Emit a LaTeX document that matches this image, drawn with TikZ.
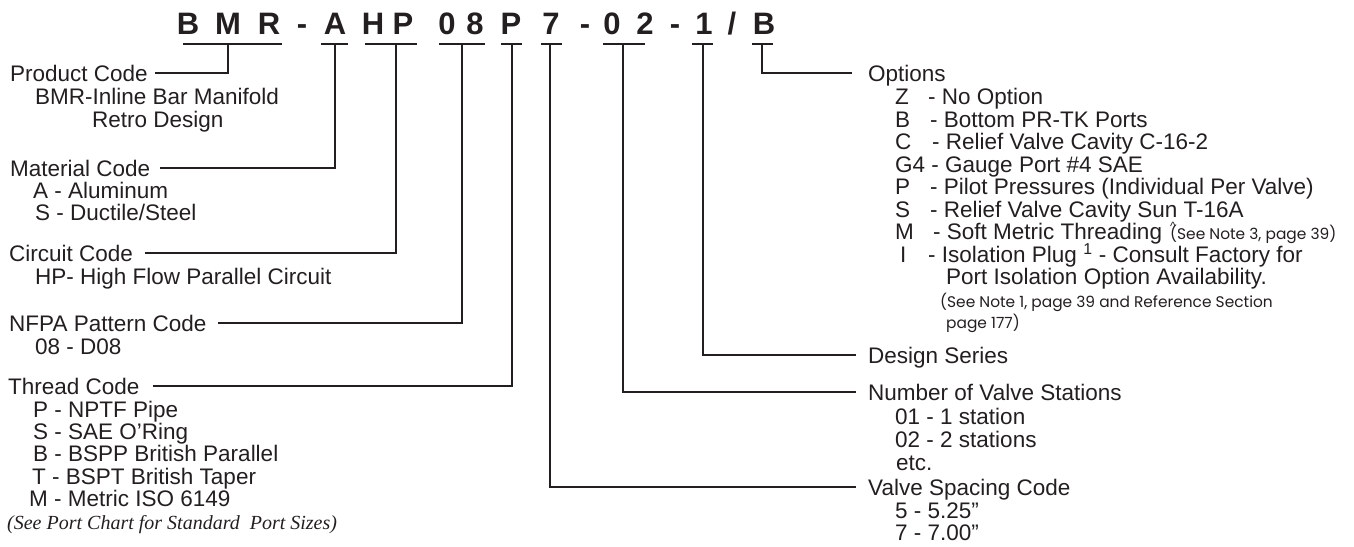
\documentclass[tikz,border=0pt]{standalone}
\usepackage{fontspec}
\setmainfont{Liberation Sans}
\newfontfamily\notefont{Poppins}
\newfontfamily\serifit{Liberation Serif}
\definecolor{ink}{HTML}{231F20}
\begin{document}
\begin{tikzpicture}[x=1pt,y=-1pt,
  code/.style={anchor=base,inner sep=0pt,text=ink,font=\fontsize{31}{31}\selectfont\bfseries},
  lbl/.style={anchor=base west,inner sep=0pt,text=ink,font=\fontsize{22.5}{22.5}\selectfont},
  note/.style={anchor=base west,inner sep=0pt,text=ink,font=\fontsize{15.4}{15.4}\selectfont\notefont},
  itl/.style={anchor=base west,inner sep=0pt,text=ink,font=\fontsize{20}{20}\selectfont\serifit\itshape},
  wire/.style={draw=ink,line width=1.3pt}]
\useasboundingbox (0,0) rectangle (1354,546);
% ---- code letters
\node[code] (k1) at (188,34) {B};
\node[code] (k2) at (228,34) {M};
\node[code] (k3) at (269,34) {R};
\node[code] (k4) at (302,34) {-};
\node[code] (k5) at (335,34) {A};
\node[code] (k6) at (373,34) {H};
\node[code] (k7) at (403,34) {P};
\node[code] (k8) at (447,34) {0};
\node[code] (k9) at (475,34) {8};
\node[code] (k10) at (511,34) {P};
\node[code] (k11) at (551,34) {7};
\node[code] (k12) at (585,34) {-};
\node[code] (k13) at (612,34) {0};
\node[code] (k14) at (645,34) {2};
\node[code] (k15) at (675,34) {-};
\node[code] (k16) at (704,34) {1};
\node[code] (k17) at (732,34) {/};
\node[code] (k18) at (764,34) {B};
% ---- underlines
\coordinate (uBa) at (183,44); \coordinate (uBb) at (282,44);
\coordinate (uAa) at (321,44); \coordinate (uAb) at (348,44);
\coordinate (uHa) at (365,44); \coordinate (uHb) at (417,44);
\coordinate (uNa) at (439,44); \coordinate (uNb) at (485,44);
\coordinate (uPa) at (501,44); \coordinate (uPb) at (522,44);
\coordinate (uSa) at (541,44); \coordinate (uSb) at (562,44);
\coordinate (uVa) at (603,44); \coordinate (uVb) at (645,44);
\coordinate (uDa) at (692,44); \coordinate (uDb) at (713,44);
\coordinate (uOa) at (752,44); \coordinate (uOb) at (773,44);
\foreach \u in {B,A,H,N,P,S,V,D,O} \draw[wire] (u\u a) -- (u\u b);
% stem tops
\coordinate (sB) at (228,44);
\coordinate (sA) at (335,44);
\coordinate (sH) at (396,44);
\coordinate (sN) at (462,44);
\coordinate (sP) at (512,44);
\coordinate (sS) at (550,44);
\coordinate (sV) at (623,44);
\coordinate (sD) at (703,44);
\coordinate (sO) at (762,44);
% line ends at labels
\coordinate (eB) at (155,73);
\coordinate (eA) at (160,168);
\coordinate (eH) at (145,253);
\coordinate (eN) at (218,323);
\coordinate (eP) at (153,386);
\coordinate (eS) at (856,487);
\coordinate (eV) at (856,392);
\coordinate (eD) at (856,355);
\coordinate (eO) at (852,73);
\foreach \s in {B,A,H,N,P,S,V,D,O} \draw[wire] (s\s) |- (e\s);
% ---- left labels
\node[lbl] (pc) at (10,81) {Product Code};
\node[lbl] (pc1) at (35,104) {BMR-Inline Bar Manifold};
\node[lbl] (pc2) at (92,127) {Retro Design};
\node[lbl] (mc) at (10,176) {Material Code};
\node[lbl] (mc1) at (33,198) {A - Aluminum};
\node[lbl] (mc2) at (35,220) {S - Ductile/Steel};
\node[lbl] (cc) at (9,261) {Circuit Code};
\node[lbl] (cc1) at (35,284) {HP- High Flow Parallel Circuit};
\node[lbl] (nf) at (9,331) {NFPA Pattern Code};
\node[lbl] (nf1) at (35,354) {08 - D08};
\node[lbl] (tc) at (8,394) {Thread Code};
\node[lbl] (tc1) at (33,417) {P - NPTF Pipe};
\node[lbl] (tc2) at (33,439) {S - SAE O’Ring};
\node[lbl] (tc3) at (33,461) {B - BSPP British Parallel};
\node[lbl] (tc4) at (32,484) {T - BSPT British Taper};
\node[lbl] (tc5) at (29,506) {M - Metric ISO 6149};
\node[itl] (tc6) at (7,529) {(See Port Chart for Standard\ \ Port Sizes)};
% ---- right labels
\node[lbl] (op) at (868,81) {Options};
\node[lbl] (opZ) at (895,104) {Z};   \node[lbl] (opZt) at (928,104) {- No Option};
\node[lbl] (opB) at (895,127) {B};   \node[lbl] (opBt) at (930,127) {- Bottom PR-TK Ports};
\node[lbl] (opC) at (895,149) {C};   \node[lbl] (opCt) at (932,149) {- Relief Valve Cavity C-16-2};
\node[lbl] (opG) at (895,172) {G4 - Gauge Port \#4 SAE};
\node[lbl] (opP) at (895,194) {P};   \node[lbl] (opPt) at (930,194) {- Pilot Pressures (Individual Per Valve)};
\node[lbl] (opS) at (895,217) {S};   \node[lbl] (opSt) at (930,217) {- Relief Valve Cavity Sun T-16A};
\node[lbl] (opM) at (895,239) {M};   \node[lbl] (opMt) at (933,239) {- Soft Metric Threading};
\node[anchor=base west,inner sep=0pt,text=ink,font=\fontsize{12}{12}\selectfont] (opMc) at (1170,230) {\^{}};
\node[note] (opMn) at (1170,239) {(See Note 3, page 39)};
\node[lbl] (opI) at (900,262) {I};   \node[lbl] (opIt) at (928,262) {- Isolation Plug \textsuperscript{1} - Consult Factory for};
\node[lbl] (opI2) at (946,284) {Port Isolation Option Availability.};
\node[note] (opN1) at (940,307) {(See Note 1, page 39 and Reference Section};
\node[note] (opN2) at (946,328) {page 177)};
\node[lbl] (ds) at (868,363) {Design Series};
\node[lbl] (nv) at (868,400) {Number of Valve Stations};
\node[lbl] (nv1) at (895,424) {01 - 1 station};
\node[lbl] (nv2) at (895,447) {02 - 2 stations};
\node[lbl] (nv3) at (896,470) {etc.};
\node[lbl] (vs) at (868,495) {Valve Spacing Code};
\node[lbl] (vs1) at (895,518) {5 - 5.25”};
\node[lbl] (vs2) at (895,540) {7 - 7.00”};
\end{tikzpicture}
\end{document}
